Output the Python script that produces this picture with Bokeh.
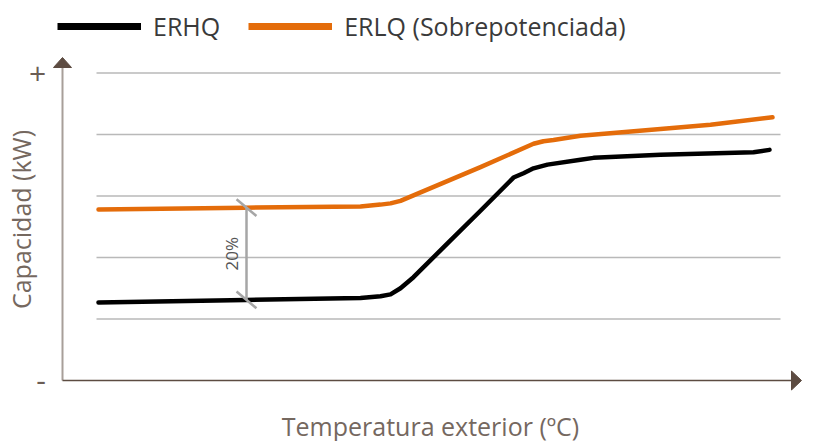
import numpy as np
from bokeh.plotting import figure
from bokeh.models import Range1d, Legend, LegendItem, PolyAnnotation, Label
from bokeh.core.properties import value
from bokeh.embed import file_html
from bokeh.resources import INLINE

# ---- data (x in arbitrary temperature units) ----
temp_erhq = [36, 183, 298, 318, 328, 338, 351, 385, 418, 451, 461, 471, 485, 518, 531, 598, 691, 707]
cap_erhq = [1.27, 1.31, 1.34, 1.37, 1.40, 1.50, 1.68, 2.23, 2.76, 3.30, 3.37, 3.45, 3.51, 3.59, 3.62, 3.67, 3.71, 3.75]
temp_erlq = [36, 183, 298, 318, 328, 338, 351, 418, 471, 481, 491, 518, 598, 648, 710]
cap_erlq = [2.78, 2.81, 2.83, 2.86, 2.88, 2.92, 3.01, 3.47, 3.85, 3.89, 3.91, 3.98, 4.09, 4.16, 4.28]
series_names = ["ERHQ", "ERLQ (Sobrepotenciada)"]
grid_levels = [1, 2, 3, 4, 5]
y_tick_values = [0, 5]
y_tick_labels = ["-", "+"]
x_title = "Temperatura exterior (ºC)"
y_title = "Capacidad (kW)"
gap_label = "20%"
gap_x = 184

# ---- layout: the frame covers the whole canvas ----
W, H = 818, 441
PX_PER_UNIT = 61.5
py = 1.0 / PX_PER_UNIT
ORIGIN_CX, ORIGIN_CY = 62, 380          # canvas position of the axes origin
x_start, x_end = -ORIGIN_CX, W - ORIGIN_CX
y_start, y_end = -(H - ORIGIN_CY) * py, ORIGIN_CY * py
x_tip = 739                             # end of horizontal axis arrow
y_tip = 323 * py                        # end of vertical axis arrow
grid_x0, grid_x1 = 34, 718              # horizontal extent of the gridlines
tick_label_x = [-21.5, -25]

FONT = "Open Sans"
AX_COLOR = "#5d4c42"
LABEL_COLOR = "#75685f"

p = figure(width=W, height=H, x_range=Range1d(x_start, x_end), y_range=Range1d(y_start, y_end),
           output_backend="svg", toolbar_location=None,
           min_border=0, min_border_left=0, min_border_right=0,
           min_border_top=0, min_border_bottom=0)
p.outline_line_color = None
p.xaxis.visible = False
p.yaxis.visible = False
p.xgrid.visible = False
p.ygrid.visible = False

# gridlines (limited horizontal extent)
p.segment(x0=[grid_x0] * len(grid_levels), x1=[grid_x1] * len(grid_levels),
          y0=grid_levels, y1=grid_levels, line_color="#b9b9b9", line_width=1.5)

# axis lines + arrow heads
p.segment(x0=[0], y0=[0], x1=[0], y1=[y_tip - 4 * py], line_color="#a89f99", line_width=2)
p.segment(x0=[0], y0=[0], x1=[x_tip - 4], y1=[0], line_color=AX_COLOR, line_width=1.5)
p.add_layout(PolyAnnotation(xs=[-9, 9, 0], ys=[y_tip - 10 * py, y_tip - 10 * py, y_tip],
                            fill_color=AX_COLOR, fill_alpha=1, line_color=AX_COLOR, line_alpha=1))
p.add_layout(PolyAnnotation(xs=[x_tip - 10, x_tip - 10, x_tip], ys=[-9.5 * py, 9.5 * py, 0],
                            fill_color=AX_COLOR, fill_alpha=1, line_color=AX_COLOR, line_alpha=1))

# "+" / "-" ends of the capacity axis
p.text(x=tick_label_x, y=y_tick_values, text=y_tick_labels, text_align="center",
       text_baseline="middle", text_font=value(FONT), text_font_size="30px",
       text_color="#6b5d55")

# axis titles
p.add_layout(Label(x=20, y=H - 219, x_units="screen", y_units="screen", text=y_title,
                   angle=np.pi / 2, text_align="center", text_baseline="middle",
                   text_font=FONT, text_font_size="25px", text_color=LABEL_COLOR))
p.add_layout(Label(x=430, y=H - 425, x_units="screen", y_units="screen", text=x_title,
                   text_align="center", text_baseline="alphabetic",
                   text_font=FONT, text_font_size="25px", text_color=LABEL_COLOR))

# series
p.line(temp_erhq, cap_erhq, line_color="#000000", line_width=4.5, line_join="round", line_cap="round")
p.line(temp_erlq, cap_erlq, line_color="#e46c0a", line_width=4.5, line_join="round", line_cap="round")

# 20% dimension
lo = float(np.interp(gap_x, temp_erhq, cap_erhq))
hi = float(np.interp(gap_x, temp_erlq, cap_erlq))
p.segment(x0=[gap_x], y0=[lo], x1=[gap_x], y1=[hi], line_color="#a6a6a6", line_width=2.5)
p.scatter(x=[gap_x, gap_x], y=[lo, hi], marker="dash", size=26, angle=-0.7,
          line_color="#a6a6a6", line_width=2.5)
p.text(x=[gap_x], y=[(lo + hi) / 2], text=[gap_label], angle=np.pi / 2, x_offset=-15,
       text_align="center", text_baseline="middle", text_font=value(FONT),
       text_font_size="17px", text_color="#555555")

# legend (thicker swatches, renderers without visible data)
nan_pt = np.array([np.nan])
leg_r1 = p.line(x=nan_pt, y=nan_pt, line_color="#000000", line_width=7)
leg_r2 = p.line(x=nan_pt, y=nan_pt, line_color="#e46c0a", line_width=7)
legend = Legend(items=[LegendItem(label=series_names[0], renderers=[leg_r1]),
                       LegendItem(label=series_names[1], renderers=[leg_r2])],
                orientation="horizontal", location=(57, 398), padding=0, margin=0,
                spacing=28, label_standoff=12, glyph_width=84, glyph_height=20,
                border_line_alpha=0, background_fill_alpha=0,
                label_text_font=FONT, label_text_font_size="25px",
                label_text_color="#3a3a3a")
p.add_layout(legend, "center")

open("out.html", "w").write(file_html(p, INLINE))
